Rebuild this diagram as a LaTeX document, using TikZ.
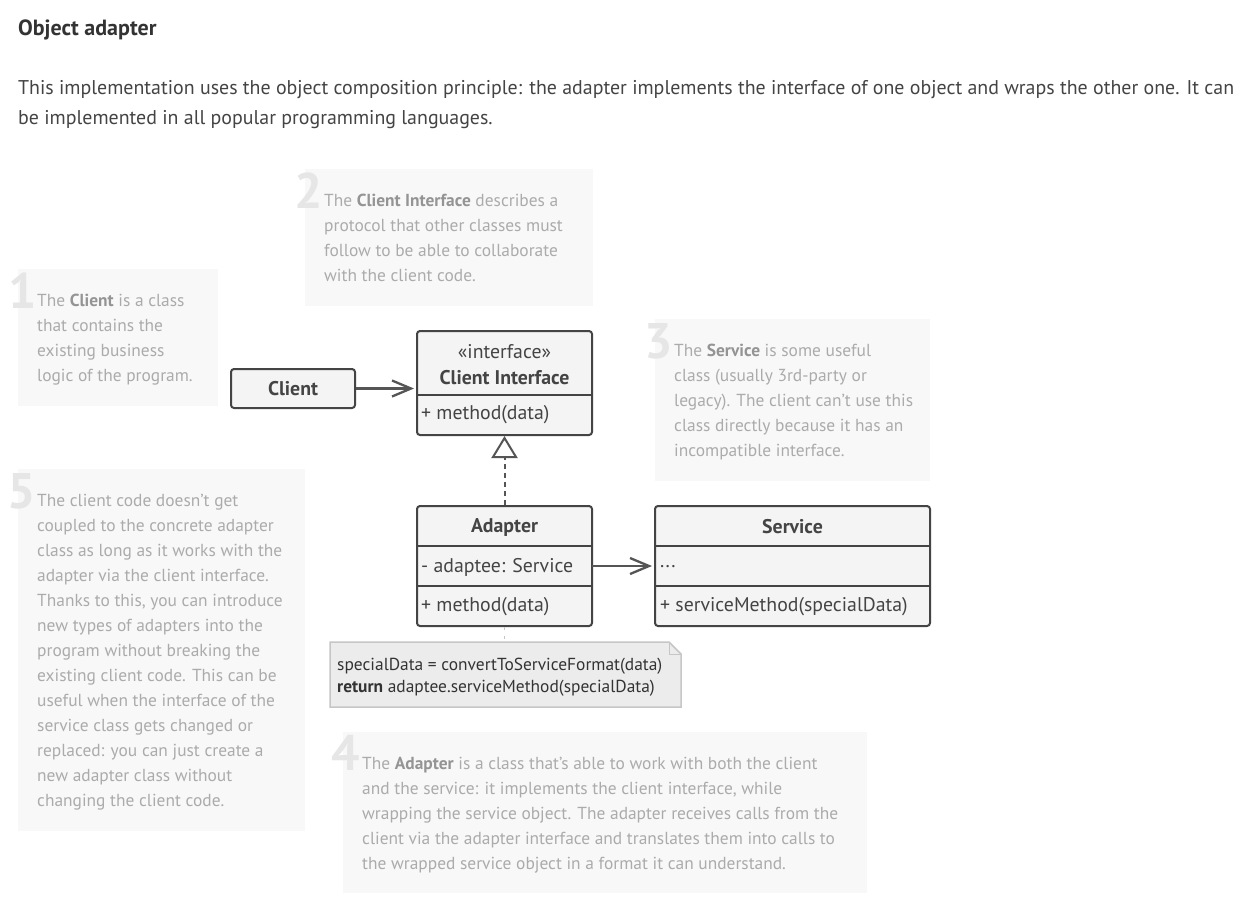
\documentclass[tikz,border=0pt]{standalone}
\usepackage{fontspec}
\setmainfont{PT Sans}
\usetikzlibrary{arrows.meta}
\definecolor{ink}{HTML}{444444}
\definecolor{titleink}{HTML}{333333}
\definecolor{notebg}{HTML}{F8F8F8}
\definecolor{notetxt}{HTML}{ABABAB}
\definecolor{notebold}{HTML}{949494}
\definecolor{numcol}{HTML}{E6E6E6}
\definecolor{boxfill}{HTML}{F4F4F4}
\definecolor{boxline}{HTML}{444444}
\definecolor{linkcol}{HTML}{555555}
\definecolor{memofill}{HTML}{ECECEC}
\definecolor{memoline}{HTML}{C6C6C6}
\newcommand{\nb}[1]{{\bfseries\color{notebold}#1}}
\begin{document}
\begin{tikzpicture}[x=1pt,y=-1pt,
  notebox/.style={fill=notebg,draw=none},
  numeral/.style={anchor=base west,inner sep=0pt,text=numcol,font=\bfseries\fontsize{50}{50}\selectfont},
  notetext/.style={anchor=north west,inner sep=0pt,text=notetxt,align=left,font=\fontsize{17.4}{25}\selectfont},
  umlbox/.style={draw=boxline,fill=boxfill,line width=2pt,rounded corners=3pt,inner sep=0pt},
  divider/.style={draw=boxline,line width=2pt},
  umltxt/.style={inner sep=0pt,text=ink,font=\fontsize{19.8}{22}\selectfont},
  umlbold/.style={inner sep=0pt,text=ink,font=\bfseries\fontsize{19.8}{22}\selectfont},
  assoc/.style={draw=linkcol,line width=2.2pt,-{Straight Barb[length=19pt,width=16pt,line width=2.3pt]}},
  realize/.style={draw=linkcol,line width=2pt,dash pattern=on 5pt off 4pt},
]
\useasboundingbox (0,0) rectangle (1247,911);
\fill[white] (0,0) rectangle (1247,911);

% heading
\node[anchor=base west,inner sep=0pt,text=titleink,font=\bfseries\fontsize{22}{26}\selectfont] (title) at (18,35) {Object adapter};
\node[anchor=north west,inner sep=0pt,text=ink,align=left,font=\fontsize{19.9}{30}\selectfont] (intro) at (18,73)
 {\strut This implementation uses the object composition principle: the adapter implements the interface of one object and wraps the other one. It can\\
  be implemented in all popular programming languages.};

% note 1
\fill[notebox] (18,269) rectangle (218,406);
\node[numeral] (n1) at (8,308) {1};
\node[notetext] (t1) at (37,288.5) {\strut The \nb{Client} is a class\\that contains the\\existing business\\logic of the program.};
% note 2
\fill[notebox] (305,169) rectangle (593,306);
\node[numeral] (n2) at (294,208) {2};
\node[notetext] (t2) at (324,188.5) {\strut The \nb{Client Interface} describes a\\protocol that other classes must\\follow to be able to collaborate\\with the client code.};
% note 3
\fill[notebox] (655,319) rectangle (930,481);
\node[numeral] (n3) at (644,358) {3};
\node[notetext] (t3) at (674,338.5) {\strut The \nb{Service} is some useful\\class (usually 3rd-party or\\legacy). The client can’t use this\\class directly because it has an\\incompatible interface.};
% note 5
\fill[notebox] (18,469) rectangle (305,831);
\node[numeral] (n5) at (7,508) {5};
\node[notetext] (t5) at (37,488.5) {\strut The client code doesn’t get\\coupled to the concrete adapter\\class as long as it works with the\\adapter via the client interface.\\Thanks to this, you can introduce\\new types of adapters into the\\program without breaking the\\existing client code. This can be\\useful when the interface of the\\service class gets changed or\\replaced: you can just create a\\new adapter class without\\changing the client code.};
% note 4
\fill[notebox] (343,732) rectangle (867,893);
\node[numeral] (n4) at (331,770) {4};
\node[notetext] (t4) at (362,751.5) {\strut The \nb{Adapter} is a class that’s able to work with both the client\\and the service: it implements the client interface, while\\wrapping the service object. The adapter receives calls from the\\client via the adapter interface and translates them into calls to\\the wrapped service object in a format it can understand.};

% UML classes
\node[umlbox,minimum width=124pt,minimum height=39pt] (client) at (293,388.5) {};
\node[umlbold] (clientname) at (293,389) {Client};

\node[umlbox,minimum width=175pt,minimum height=104pt] (ci) at (504.5,383) {};
\draw[divider] (417,395) -- (592,395);
\node[umltxt] (cistereo) at (504.5,352) {«interface»};
\node[umlbold] (ciname) at (504.5,378) {Client Interface};
\node[umltxt,anchor=west] (cimethod) at (421,415) {+ method(data)};

\node[umlbox,minimum width=175pt,minimum height=120pt] (adapter) at (504.5,566) {};
\draw[divider] (417,546) -- (592,546);
\draw[divider] (417,586) -- (592,586);
\node[umlbold] (adname) at (504.5,527) {Adapter};
\node[inner sep=0pt,minimum width=175pt,minimum height=40pt] (adattr) at (504.5,566) {};
\node[umltxt,anchor=west] (adfield) at (421,567) {- adaptee: Service};
\node[umltxt,anchor=west] (admethod) at (421,607) {+ method(data)};

\node[umlbox,minimum width=275pt,minimum height=120pt] (service) at (792.5,566) {};
\draw[divider] (655,546) -- (930,546);
\draw[divider] (655,586) -- (930,586);
\node[umlbold] (svname) at (792.5,527) {Service};
\node[umltxt,anchor=west] (svfield) at (660,567) {...};
\node[umltxt,anchor=west] (svmethod) at (660,607) {+ serviceMethod(specialData)};

% connectors
\draw[assoc] (client.east) -- ([xshift=-2pt]client.east -| ci.west);
\draw[assoc] (adattr.east) -- ([xshift=-2pt]adattr.east -| service.west);
\coordinate (tribase) at (504.5,457);
\draw[realize] (adapter.north) -- (tribase);
\draw[draw=linkcol,line width=2pt,fill=white,line join=miter] (tribase) ++(-11.5,0) -- (504.5,438) -- (516,457) -- cycle;

% memo note
\coordinate (memoTL) at (330,642);
\draw[fill=memofill,draw=memoline,line width=1.5pt] (330,642) -- (669,642) -- (681,654) -- (681,707) -- (330,707) -- cycle;
\draw[draw=memoline,line width=1pt] (669,642) -- (669,654) -- (681,654);
\draw[draw=memoline,line width=1.5pt,dash pattern=on 3pt off 6pt] (adapter.south) -- (adapter.south |- memoTL);
\node[anchor=north west,inner sep=0pt,text=titleink,align=left,font=\fontsize{17.4}{22}\selectfont] (memotext) at (337,654.6)
 {\strut specialData = convertToServiceFormat(data)\\\textbf{return} adaptee.serviceMethod(specialData)};
\end{tikzpicture}
\end{document}
